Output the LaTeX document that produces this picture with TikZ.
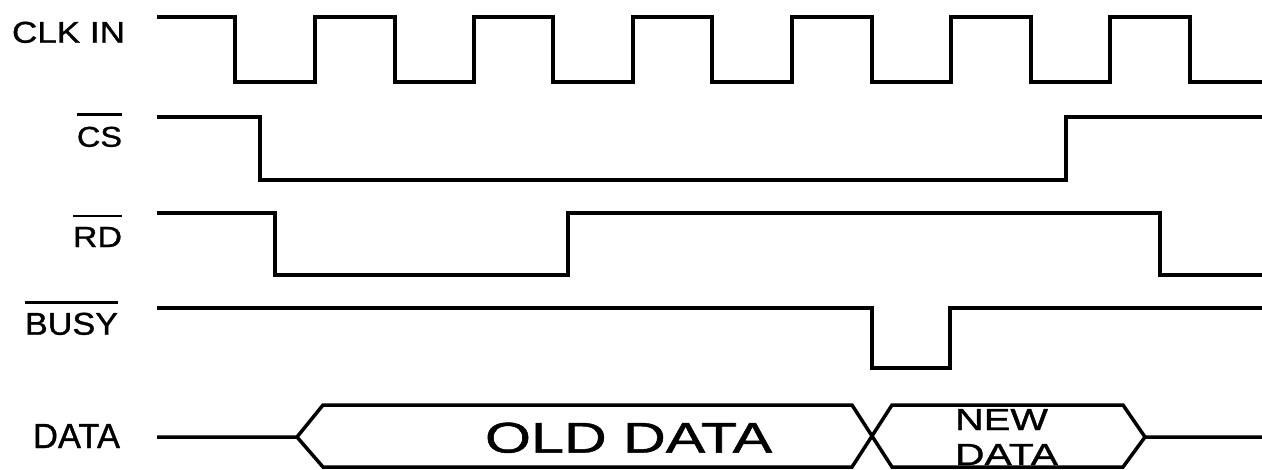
\documentclass[tikz,border=0pt]{standalone}
\usepackage{fontspec}
\setmainfont{Liberation Sans}
\newfontfamily\lblfont{Liberation Sans}[RawFeature={embolden=1}]
\begin{document}
\begin{tikzpicture}[x=1pt,y=-1pt,
  sig/.style={line width=3.5pt, line join=miter},
  lbl/.style={anchor=south west, inner sep=0pt, outer sep=0pt, font=\lblfont},
  bar/.style={line width=2.8pt}]
\useasboundingbox (0,0) rectangle (1262,469);
% labels
\node[lbl] (clk) at (12,43) {\resizebox{113pt}{21pt}{CLK IN}};
\node[lbl] (cs) at (77,147) {\resizebox{45pt}{20pt}{CS}};
\node[lbl] (rd) at (73,247) {\resizebox{49pt}{20pt}{RD}};
\node[lbl] (busy) at (25,335) {\resizebox{93pt}{22pt}{BUSY}};
\node[lbl] (data) at (33,448) {\resizebox{87pt}{24pt}{DATA}};
\node[lbl] (old) at (485,453) {\resizebox{287pt}{30pt}{OLD DATA}};
\node[lbl] (new1) at (955,430) {\resizebox{93pt}{21pt}{NEW}};
\node[lbl] (new2) at (955,465) {\resizebox{103pt}{21pt}{DATA}};
% overbars
\draw[bar] ([yshift=12pt]cs.north west) -- ([yshift=12pt]cs.north east);
\draw[bar] ([yshift=11pt]rd.north west) -- ([yshift=11pt]rd.north east);
\draw[bar] ([yshift=10pt]busy.north west) -- ([yshift=10pt]busy.north east);
% CLK IN
\draw[sig] (157,17) -- (235,17) -- (235,82) -- (315,82) -- (315,17) -- (395,17) -- (395,82)
  -- (474,82) -- (474,17) -- (553,17) -- (553,82) -- (633,82) -- (633,17) -- (712,17)
  -- (712,82) -- (792,82) -- (792,17) -- (872,17) -- (872,82) -- (951,82) -- (951,17)
  -- (1031,17) -- (1031,82) -- (1110,82) -- (1110,17) -- (1190,17) -- (1190,82) -- (1262,82);
% CS
\draw[sig] (157,117) -- (260,117) -- (260,180) -- (1066,180) -- (1066,117) -- (1262,117);
% RD
\draw[sig] (157,213) -- (275,213) -- (275,275) -- (568,275) -- (568,213) -- (1160,213) -- (1160,275) -- (1262,275);
% BUSY
\draw[sig] (157,308) -- (872,308) -- (872,368) -- (950,368) -- (950,308) -- (1262,308);
% DATA bus
\draw[sig] (157,437) -- (297,437) -- (323,405) -- (852,405) -- (892,467) -- (1123,467) -- (1145,437) -- (1262,437);
\draw[sig] (297,437) -- (323,467) -- (852,467) -- (892,405) -- (1123,405) -- (1145,437);
\end{tikzpicture}
\end{document}
